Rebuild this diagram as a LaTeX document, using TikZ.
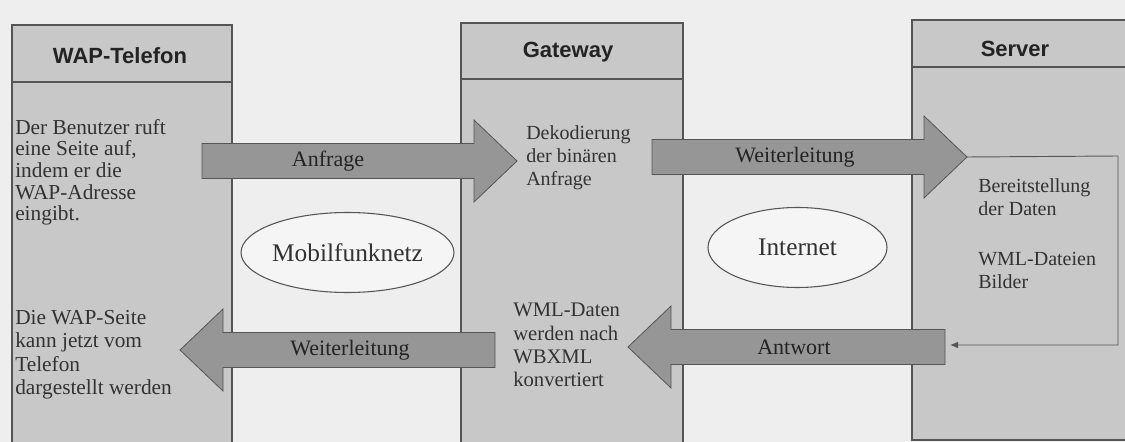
\documentclass[tikz,border=0pt]{standalone}
\usepackage{fontspec}
\setmainfont{Liberation Serif}
\newfontfamily\headfont{Liberation Sans}
\usetikzlibrary{calc,arrows.meta,shapes.geometric}

\definecolor{paper}{RGB}{238,238,238}
\definecolor{panel}{RGB}{200,200,200}
\definecolor{arrowgray}{RGB}{150,150,150}
\definecolor{ink}{RGB}{50,50,50}
\definecolor{headink}{RGB}{35,35,35}
\definecolor{edge}{RGB}{85,85,85}

\begin{document}
\begin{tikzpicture}[x=0.75pt,y=-0.75pt,
  panelbox/.style={fill=panel,draw=edge,line width=0.8pt},
  headline/.style={draw=edge,line width=0.8pt},
  headtext/.style={font=\headfont\bfseries\fontsize{16.5}{18}\selectfont,text=headink,inner sep=0pt},
  bodytext/.style={font=\fontsize{15}{17.5}\selectfont,text=ink,align=left,anchor=north west,inner sep=0pt},
  netz/.style={ellipse,draw=edge,line width=0.8pt,fill=paper!60!white,inner sep=0pt,
               minimum width=134.25pt,minimum height=60pt,font=\fontsize{19}{21}\selectfont,text=ink},
  bigarrow/.style={fill=arrowgray,draw=edge,line width=0.6pt,line join=miter},
  arrowtext/.style={font=\fontsize{16.5}{18}\selectfont,text=headink,inner sep=0pt},
  feed/.style={draw=edge,line width=0.7pt,-{Latex[length=6pt,width=5pt]}}]

  \useasboundingbox (0,0) rectangle (1125,442);
  \clip (0,0) rectangle (1125,442);
  \fill[paper] (0,0) rectangle (1125,442);

  % three columns with their header strips
  \draw[panelbox] (12,25) rectangle (232,470);
  \draw[headline] (12,82) -- (232,82);
  \draw[panelbox] (461,23) rectangle (683,470);
  \draw[headline] (461,79) -- (683,79);
  \draw[panelbox] (912,20) rectangle (1150,440);
  \draw[headline] (912,67) -- (1150,67);

  \node[headtext] (phone) at (120,56) {WAP-Telefon};
  \node[headtext] (gw) at (568,52) {Gateway};
  \node[headtext] (srv) at (1015,49) {Server};

  % networks between the columns
  \node[netz] (mobil) at (347.5,252.5) {Mobilfunknetz};
  \node[netz] (inet) at (797.5,247.5) {Internet};

  % end points of the block arrows
  \coordinate (anfT) at (202,161);  \coordinate (anfH) at (517,161);
  \coordinate (wl1T) at (652,157);  \coordinate (wl1H) at (967,157);
  \coordinate (antT) at (945,347);  \coordinate (antH) at (628,347);
  \coordinate (wl2T) at (495,350);  \coordinate (wl2H) at (180,350);

  % rightward block arrows
  \foreach \t/\h in {anfT/anfH, wl1T/wl1H}{
    \draw[bigarrow] ($(\t)+(0,-17.5)$) -- ($(\h)+(-43,-17.5)$) -- ($(\h)+(-43,-41)$)
      -- (\h) -- ($(\h)+(-43,41)$) -- ($(\h)+(-43,17.5)$) -- ($(\t)+(0,17.5)$) -- cycle;
  }
  % leftward block arrows
  \foreach \t/\h in {antT/antH, wl2T/wl2H}{
    \draw[bigarrow] ($(\t)+(0,-17.5)$) -- ($(\h)+(43,-17.5)$) -- ($(\h)+(43,-41)$)
      -- (\h) -- ($(\h)+(43,41)$) -- ($(\h)+(43,17.5)$) -- ($(\t)+(0,17.5)$) -- cycle;
  }

  \node[arrowtext] (lanf) at (328,161) {Anfrage};
  \node[arrowtext] (lwl1) at (795,157) {Weiterleitung};
  \node[arrowtext] (lant) at (794,347) {Antwort};
  \node[arrowtext] (lwl2) at (350,350) {Weiterleitung};

  % loop inside the server from request to answer
  \coordinate (turnA) at (1118,156);
  \coordinate (turnB) at (1118,345);
  \coordinate (antIn) at (950,345);
  \draw[feed] (wl1H) -- (turnA) -- (turnB) -- (antIn);

  % descriptions
  \node[bodytext,font=\fontsize{16}{16.2}\selectfont] (t1) at (15,119)
    {Der Benutzer ruft\\eine Seite auf,\\indem er die\\WAP-Adresse\\eingibt.};
  \node[bodytext,font=\fontsize{16}{17.5}\selectfont] (t2) at (15,310)
    {Die WAP-Seite\\kann jetzt vom\\Telefon\\dargestellt werden};
  \node[bodytext] (t3) at (526,125)
    {Dekodierung\\der binären\\Anfrage};
  \node[bodytext,font=\fontsize{15.5}{17.5}\selectfont] (t4) at (513,303)
    {WML-Daten\\werden nach\\WBXML\\konvertiert};
  \node[bodytext] (t5) at (978,178)
    {Bereitstellung\\der Daten};
  \node[bodytext] (t6) at (978,252)
    {WML-Dateien\\Bilder};
\end{tikzpicture}
\end{document}
